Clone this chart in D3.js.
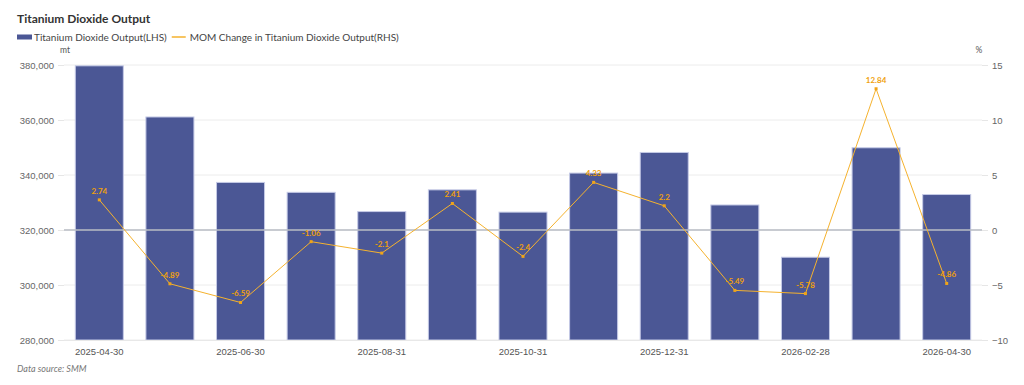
<!DOCTYPE html>
<html>
<head>
<meta charset="utf-8">
<script src="https://cdn.jsdelivr.net/npm/d3@7"></script>
<style>
  body { margin: 0; background: #fff; font-family: Lato, "Noto Sans", sans-serif; }
  svg text { fill: #555; }
</style>
</head>
<body>
<svg id="chart" width="1024" height="385"></svg>
<script>
var dates = ['2025-04-30','2025-05-31','2025-06-30','2025-07-31','2025-08-31','2025-09-30','2025-10-31',
             '2025-11-30','2025-12-31','2026-01-31','2026-02-28','2026-03-31','2026-04-30'];
var output = [379700, 361100, 337300, 333700, 326700, 334600, 326500, 340700, 348200, 329100, 310100, 349900, 332900];
var mom = [2.74, -4.89, -6.59, -1.06, -2.1, 2.41, -2.4, 4.33, 2.2, -5.49, -5.78, 12.84, -4.86];
var left_ticks = [280000, 300000, 320000, 340000, 360000, 380000];
var right_ticks = [-10, -5, 0, 5, 10, 15];

var margin = {top: 65, right: 42, bottom: 45, left: 64},
    width = 1024 - margin.left - margin.right,
    height = 385 - margin.top - margin.bottom;

var svg = d3.select('#chart');
var g = svg.append('g').attr('transform', 'translate(' + margin.left + ',' + margin.top + ')');

var x = d3.scaleBand().domain(dates).range([0, width]).paddingInner(0.32).paddingOuter(0.16);
var yl = d3.scaleLinear().domain([280000, 380000]).range([height, 0]);
var yr = d3.scaleLinear().domain([-10, 15]).range([height, 0]);

// grid
g.selectAll('line.grid')
  .data(left_ticks)
  .enter()
  .append('line')
  .attr('class', 'grid')
  .attr('x1', 0).attr('x2', width)
  .attr('y1', function(d) { return yl(d); })
  .attr('y2', function(d) { return yl(d); })
  .attr('stroke', '#ececec')
  .attr('stroke-width', 1);

// left axis
var la = g.append('g').call(d3.axisLeft(yl).tickValues(left_ticks).tickFormat(d3.format(',')).tickSize(6).tickPadding(4));
la.select('.domain').remove();
la.selectAll('.tick line').attr('stroke', '#e6e6e6');
la.selectAll('.tick text').attr('font-size', 9.5).style('fill', '#666');

// right axis
var ra = g.append('g').attr('transform', 'translate(' + width + ',0)')
  .call(d3.axisRight(yr).tickValues(right_ticks).tickSize(6).tickPadding(4));
ra.select('.domain').remove();
ra.selectAll('.tick line').attr('stroke', '#e6e6e6');
ra.selectAll('.tick text').attr('font-size', 9.5).style('fill', '#666');

// bars
g.selectAll('rect.bar')
  .data(output)
  .enter()
  .append('rect')
  .attr('class', 'bar')
  .attr('x', function(d, i) { return x(dates[i]); })
  .attr('width', x.bandwidth())
  .attr('y', function(d) { return yl(d); })
  .attr('height', function(d) { return height - yl(d); })
  .attr('fill', '#4b5795')
  .attr('stroke', '#c5cae6')
  .attr('stroke-width', 1);

// zero line
g.append('line')
  .attr('x1', 0).attr('x2', width)
  .attr('y1', yr(0)).attr('y2', yr(0))
  .attr('stroke', '#b8bcc4')
  .attr('stroke-width', 1.5);

// bottom axis line
g.append('line')
  .attr('x1', 0).attr('x2', width)
  .attr('y1', height + 0.5).attr('y2', height + 0.5)
  .attr('stroke', '#e8e8e8');

// x labels
var xa = g.append('g').attr('transform', 'translate(0,' + height + ')')
  .call(d3.axisBottom(x).tickValues(dates.filter(function(d, i) { return i % 2 == 0; })).tickSize(0).tickPadding(8));
xa.select('.domain').remove();
xa.selectAll('.tick text').attr('font-size', 9.5).style('fill', '#555');

// line
var cx = function(i) { return x(dates[i]) + x.bandwidth() / 2; };
var line = d3.line()
  .x(function(d, i) { return cx(i); })
  .y(function(d) { return yr(d); });

g.append('path')
  .datum(mom)
  .attr('d', line)
  .attr('fill', 'none')
  .attr('stroke', '#f5b22e')
  .attr('stroke-width', 1);

g.selectAll('rect.pt')
  .data(mom)
  .enter()
  .append('rect')
  .attr('class', 'pt')
  .attr('x', function(d, i) { return cx(i) - 1.5; })
  .attr('y', function(d) { return yr(d) - 1.5; })
  .attr('width', 3).attr('height', 3)
  .attr('fill', '#f0a418');

g.selectAll('text.lbl')
  .data(mom)
  .enter()
  .append('text')
  .attr('class', 'lbl')
  .attr('x', function(d, i) { return cx(i); })
  .attr('y', function(d) { return yr(d) - 6; })
  .attr('text-anchor', 'middle')
  .attr('font-size', 8)
  .attr('font-weight', 'bold')
  .style('fill', '#f0a00a')
  .text(function(d) { return d; });

// axis units
svg.append('text').attr('x', margin.left + 1).attr('y', 53).attr('font-size', 8.5).attr('text-anchor', 'middle').style('fill', '#555').text('mt');
svg.append('text').attr('x', margin.left + width - 3).attr('y', 53).attr('font-size', 8.5).attr('text-anchor', 'middle').style('fill', '#555').text('%');

// title
svg.append('text').attr('x', 17).attr('y', 23).attr('font-size', 12).attr('font-weight', 'bold').style('fill', '#333').text('Titanium Dioxide Output');

// legend
var legend = svg.append('g').attr('transform', 'translate(17,37)');
legend.append('rect').attr('x', 0).attr('y', -2.5).attr('width', 15).attr('height', 5).attr('fill', '#4b5795');
var t1 = legend.append('text').attr('x', 17).attr('y', 3.5).attr('font-size', 10).style('fill', '#444').text('Titanium Dioxide Output(LHS)');
var lx = 17 + t1.node().getComputedTextLength() + 5;
legend.append('line').attr('x1', lx).attr('x2', lx + 14).attr('y1', 0).attr('y2', 0).attr('stroke', '#f5b22e').attr('stroke-width', 1.5);
legend.append('text').attr('x', lx + 18).attr('y', 3.5).attr('font-size', 10).style('fill', '#444').text('MOM Change in Titanium Dioxide Output(RHS)');

// source
svg.append('text').attr('x', 17).attr('y', 372).attr('font-size', 9).attr('font-style', 'italic').style('fill', '#777').text('Data source:  SMM');
</script>
</body>
</html>
